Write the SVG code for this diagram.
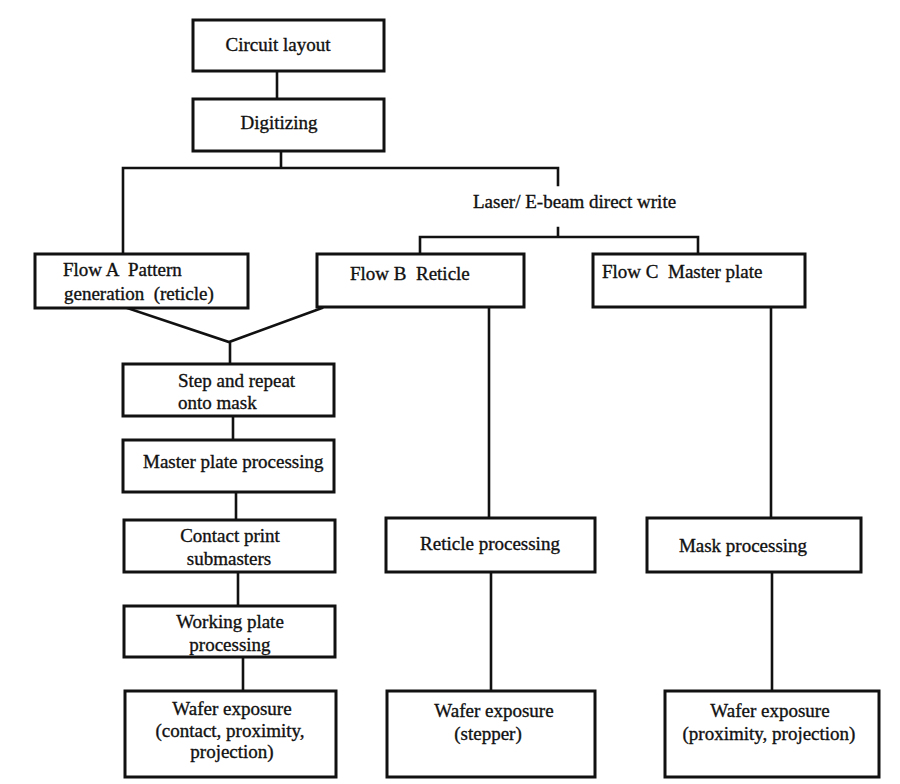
<svg xmlns="http://www.w3.org/2000/svg" width="900" height="784" viewBox="0 0 900 784">
<style>
.box{fill:#fff;stroke:#111;stroke-width:3}
.ln{fill:none;stroke:#111;stroke-width:2.6;stroke-linecap:square}
text{font-family:"Liberation Serif","Times New Roman",serif;font-size:19px;fill:#111;stroke:#111;stroke-width:0.35;white-space:pre}
.c{text-anchor:middle}
</style>
<rect width="900" height="784" fill="#fff"/>
<g id="connectors">
<path class="ln" d="M277 71V99"/>
<path class="ln" d="M281 151V168M123 168H558M123 168V254M558 168V185"/>
<path class="ln" d="M558 228V237M420 237H698M420 237V254M698 237V254"/>
<path class="ln" d="M127 308L229 342L322 308M230 342V364"/>
<path class="ln" d="M233 416V440M236 492V520M238 572V606M243 657V691"/>
<path class="ln" d="M489 307V518M491 572V691"/>
<path class="ln" d="M771 307V518M772 572V691"/>
</g>
<g id="laser-label"><text x="473" y="208">Laser/ E-beam direct write</text></g>
<g id="circuit-layout"><rect class="box" x="193" y="20" width="191" height="51"/><text class="c" x="278" y="51">Circuit layout</text></g>
<g id="digitizing"><rect class="box" x="193" y="99" width="191" height="52"/><text class="c" x="279" y="129">Digitizing</text></g>
<g id="flow-a"><rect class="box" x="35" y="254" width="213" height="54"/><text x="63" y="276">Flow A  Pattern</text><text x="64" y="300">generation  (reticle)</text></g>
<g id="flow-b"><rect class="box" x="317" y="254" width="207" height="53"/><text x="350" y="280">Flow B  Reticle</text></g>
<g id="flow-c"><rect class="box" x="593" y="254" width="212" height="53"/><text x="602" y="278">Flow C  Master plate</text></g>
<g id="step-repeat"><rect class="box" x="123" y="364" width="211" height="52"/><text x="178" y="387">Step and repeat</text><text x="178" y="409">onto mask</text></g>
<g id="master-plate"><rect class="box" x="123" y="440" width="211" height="52"/><text x="143" y="468">Master plate processing</text></g>
<g id="contact-print"><rect class="box" x="124" y="520" width="211" height="52"/><text class="c" x="230" y="542">Contact print</text><text class="c" x="229" y="565">submasters</text></g>
<g id="working-plate"><rect class="box" x="124" y="606" width="211" height="51"/><text class="c" x="230" y="628">Working plate</text><text class="c" x="230" y="651">processing</text></g>
<g id="wafer-a"><rect class="box" x="125" y="691" width="211" height="86"/><text class="c" x="232" y="715">Wafer exposure</text><text class="c" x="230" y="737">(contact, proximity,</text><text class="c" x="232" y="758">projection)</text></g>
<g id="reticle-processing"><rect class="box" x="386" y="518" width="209" height="54"/><text class="c" x="490" y="550">Reticle processing</text></g>
<g id="wafer-b"><rect class="box" x="387" y="691" width="208" height="86"/><text class="c" x="494" y="717">Wafer exposure</text><text class="c" x="488" y="740">(stepper)</text></g>
<g id="mask-processing"><rect class="box" x="647" y="518" width="214" height="54"/><text class="c" x="743" y="552">Mask processing</text></g>
<g id="wafer-c"><rect class="box" x="665" y="691" width="214" height="86"/><text class="c" x="770" y="717">Wafer exposure</text><text class="c" x="769" y="740">(proximity, projection)</text></g>
</svg>
